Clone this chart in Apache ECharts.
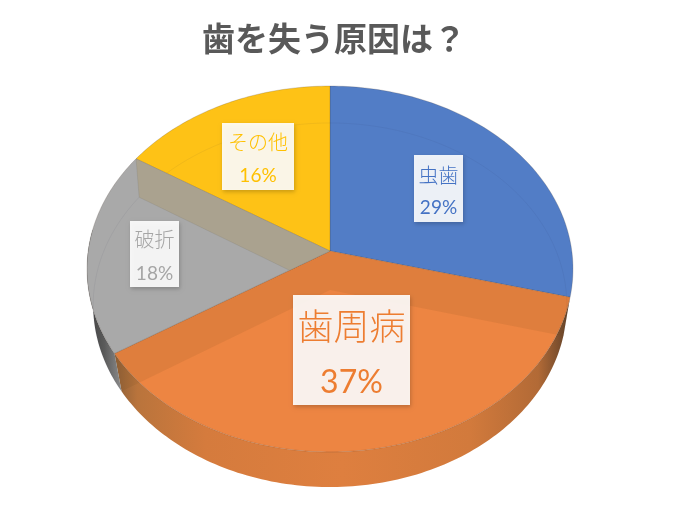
<!DOCTYPE html>
<html><head><meta charset="utf-8">
<script src="https://cdn.jsdelivr.net/npm/echarts@6/dist/echarts.min.js"></script>
<style>html,body{margin:0;padding:0;background:#fff}#c{width:676px;height:505px}</style>
</head><body><div id="c"></div>
<script>
const categories = ['虫歯','歯周病','破折','その他'];
const values = [29,37,18,16];
const titleText = '歯を失う原因は？';
const labelFaceColors = ['#527DC6','#ED8542','#A9A9A9','#FEC216'];
const labelTextColors = ['#4472C4','#ED7D31','#A5A5A5','#FFC000'];

// label layout: [box x0, y0, x1, y1, name y, pct y, name size, pct size]
const labelLayout = [
  [414,155,463,222,175,208,20,19],
  [293,295,410,405,326,383,36,32],
  [130,221,179,287,239,274,20,19],
  [222,123,294,190,142,176,20,19]
];
// perspective discs for the tilted pie
const TOP = {cx:330,cy:251,R:241.8,B:181.2,k:0.0984};
const BOT = {cx:330,cy:290,R:236,B:180.8,k:0.0824};
const CJK = '"Noto Sans CJK JP"';

const total = values.reduce((a,b)=>a+b,0);
function project(d,theta){
  const u=Math.sin(theta), v=-Math.cos(theta), w=1-d.k*v;
  return [d.cx+d.R*u/w, d.cy+d.B*v/w];
}
function arc(d,a,b){
  const n=Math.max(2,Math.ceil(Math.abs(b-a)/0.02)), p=[];
  for(let i=0;i<=n;i++) p.push(project(d,a+(b-a)*i/n));
  return p;
}
function range(i){
  let s=0; for(let j=0;j<i;j++) s+=values[j];
  return [s/total*2*Math.PI,(s+values[i])/total*2*Math.PI];
}
function cross(p1,p2,p3,p4){
  const d=(p1[0]-p2[0])*(p3[1]-p4[1])-(p1[1]-p2[1])*(p3[0]-p4[0]);
  const a=p1[0]*p2[1]-p1[1]*p2[0], b=p3[0]*p4[1]-p3[1]*p4[0];
  return [(a*(p3[0]-p4[0])-(p1[0]-p2[0])*b)/d,(a*(p3[1]-p4[1])-(p1[1]-p2[1])*b)/d];
}
function grad(stops){return {type:'linear',x:0,y:0,x2:1,y2:0,colorStops:stops.map(s=>({offset:s[0],color:s[1]}))};}
const poly=(points,style)=>({type:'polygon',shape:{points},style});
const line=(points,style)=>({type:'polyline',shape:{points},style:Object.assign({fill:null},style)});

const layers = {
  wall(i){
    const [a,b]=range(i);
    if(i===1) return poly(arc(TOP,a,b).concat(arc(BOT,b,a)),{fill:grad([[0,'#8E6038'],[0.05,'#B9743C'],[0.2,'#D57B3D'],[0.5,'#DE7F3F'],[0.78,'#D27A3C'],[0.93,'#B26A36'],[1,'#5E4029']])});
    if(i===2){
      const e=Math.PI*1.5+0.12;
      return poly(arc(TOP,a,e).concat(arc(BOT,e,a)),{fill:grad([[0,'#3F3F3F'],[0.5,'#5A5A5A'],[1,'#8C8C8C']])});
    }
    return {type:'group',children:[]};
  },
  face(i){
    const [a,b]=range(i);
    return poly([[TOP.cx,TOP.cy]].concat(arc(TOP,a,b)),{fill:labelFaceColors[i],stroke:'rgba(70,60,50,0.35)',lineWidth:0.6});
  },
  inner(i){
    const [a,b]=range(i);
    if(i===1){
      const pts=[[TOP.cx,TOP.cy],project(TOP,a),project(BOT,a),[BOT.cx,BOT.cy],project(BOT,b),project(TOP,b)];
      return poly(pts,{fill:'rgba(110,70,30,0.11)'});
    }
    if(i===3){
      const edge=range(2)[0];
      const hit=cross([BOT.cx,BOT.cy],project(BOT,a),[TOP.cx,TOP.cy],project(TOP,edge));
      return poly([[TOP.cx,TOP.cy],project(TOP,a),project(BOT,a),hit],{fill:'#AAA28F',stroke:'rgba(90,90,80,0.25)',lineWidth:0.5});
    }
    if(i===0){
      return line(arc(BOT,range(2)[0],b+2*Math.PI),{stroke:'rgba(40,40,60,0.08)',lineWidth:0.8});
    }
    return {type:'group',children:[]};
  },
  label(i,v){
    const L=labelLayout[i], x=(L[0]+L[2])/2;
    return {type:'group',children:[
      {type:'rect',shape:{x:L[0],y:L[1],width:L[2]-L[0],height:L[3]-L[1]},
       style:{fill:'rgba(255,255,255,0.9)',shadowBlur:4,shadowOffsetX:1,shadowOffsetY:1.5,shadowColor:'rgba(0,0,0,0.22)'}},
      {type:'text',style:{text:categories[i],x,y:L[4],align:'center',verticalAlign:'middle',font:`300 ${L[6]}px ${CJK}`,fill:labelTextColors[i]}},
      {type:'text',style:{text:v+'%',x,y:L[5],align:'center',verticalAlign:'middle',font:`${L[7]}px Lato`,fill:labelTextColors[i]}}
    ]};
  }
};
const series=['wall','face','inner','label'].map((name,idx)=>({
  type:'custom',coordinateSystem:'none',silent:true,z:idx+2,clip:false,
  data:values.map((v,i)=>({name:categories[i],value:[v]})),
  renderItem:(params,api)=>layers[name](params.dataIndex,api.value(0))
}));
const chart=echarts.init(document.getElementById('c'),null,{renderer:'canvas'});
chart.setOption({
  animation:false,
  backgroundColor:'#fff',
  title:{text:titleText,left:197,top:17,textStyle:{fontFamily:CJK,fontSize:33,fontWeight:'bold',color:'#595959'}},
  tooltip:{show:false},
  series
});
</script></body></html>
